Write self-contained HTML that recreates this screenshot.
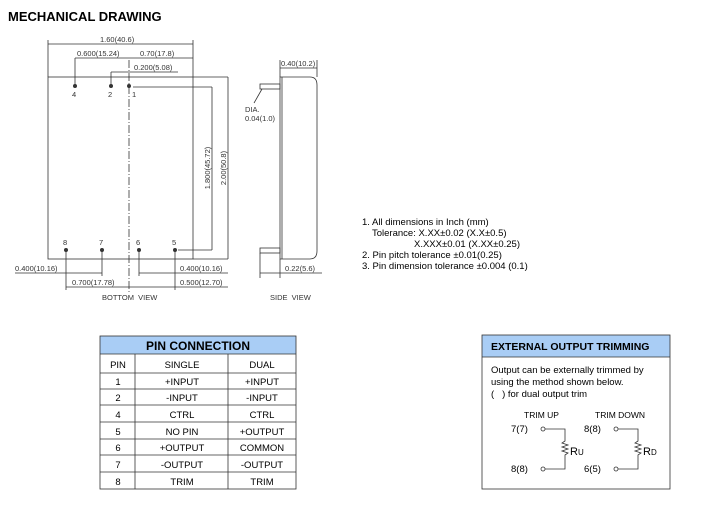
<!DOCTYPE html>
<html><head><meta charset="utf-8"><style>
html,body{margin:0;padding:0;background:#fff;width:709px;height:515px;overflow:hidden}
svg{display:block}
.t{font-family:"Liberation Sans",sans-serif}
</style></head><body>
<svg width="709" height="515" viewBox="0 0 709 515" xmlns="http://www.w3.org/2000/svg">
<text x="8" y="21" class="t" font-size="13" font-weight="bold" fill="#000">MECHANICAL DRAWING</text>
<g stroke="#333" stroke-width="0.8" fill="none">
<!-- body -->
<rect x="48" y="77" width="145" height="182"/>
<line x1="129" y1="60" x2="129" y2="292" stroke-dasharray="8,2,1,2"/>
<!-- top dims -->
<line x1="48" y1="44" x2="193" y2="44"/>
<line x1="48" y1="40" x2="48" y2="77"/><line x1="193" y1="40" x2="193" y2="77"/>
<line x1="75" y1="58" x2="193" y2="58"/>
<line x1="75" y1="58" x2="75" y2="86"/>
<line x1="111" y1="72" x2="178" y2="72"/>
<line x1="111" y1="72" x2="111" y2="86"/>
<!-- vertical dims -->
<line x1="133" y1="87" x2="212" y2="87"/>
<line x1="212" y1="87" x2="212" y2="250"/>
<line x1="178" y1="250" x2="212" y2="250"/>
<line x1="193" y1="77" x2="228" y2="77"/>
<line x1="228" y1="77" x2="228" y2="259"/>
<line x1="193" y1="259" x2="228" y2="259"/>
<!-- bottom dims -->
<line x1="66" y1="250" x2="66" y2="290"/>
<line x1="102" y1="250" x2="102" y2="276"/>
<line x1="139" y1="250" x2="139" y2="276"/>
<line x1="175" y1="250" x2="175" y2="290"/>
<line x1="15" y1="273" x2="102" y2="273"/>
<line x1="66" y1="287" x2="129" y2="287"/>
<line x1="139" y1="273" x2="228" y2="273"/>
<line x1="129" y1="287" x2="228" y2="287"/>
<!-- side view -->
<path d="M280 77 H310 Q317 77 317 85 V251 Q317 259 310 259 H280 Z"/>
<line x1="282" y1="77" x2="282" y2="259"/>
<rect x="260" y="84" width="20" height="5"/>
<rect x="260" y="248" width="20" height="5"/>
<line x1="280" y1="60" x2="280" y2="77"/><line x1="317" y1="60" x2="317" y2="77"/>
<line x1="280" y1="68" x2="317" y2="68"/>
<line x1="262" y1="89" x2="254" y2="103"/>
<line x1="260" y1="253" x2="260" y2="278"/><line x1="280" y1="259" x2="280" y2="278"/>
<line x1="260" y1="273" x2="322" y2="273"/>
</g>
<g fill="#333">
<circle cx="75" cy="86" r="2"/><circle cx="111" cy="86" r="2"/><circle cx="129" cy="86" r="2"/>
<circle cx="66" cy="250" r="2"/><circle cx="102" cy="250" r="2"/><circle cx="139" cy="250" r="2"/><circle cx="175" cy="250" r="2"/>
</g>
<g class="t" font-size="7.5" fill="#333">
<text x="100" y="42">1.60(40.6)</text>
<text x="77" y="56">0.600(15.24)</text>
<text x="140" y="56">0.70(17.8)</text>
<text x="134" y="70">0.200(5.08)</text>
<text x="72" y="97">4</text><text x="108" y="97">2</text><text x="132" y="97">1</text>
<text x="63" y="245">8</text><text x="99" y="245">7</text><text x="136" y="245">6</text><text x="172" y="245">5</text>
<text x="15" y="271">0.400(10.16)</text>
<text x="72" y="285">0.700(17.78)</text>
<text x="180" y="271">0.400(10.16)</text>
<text x="180" y="285">0.500(12.70)</text>
<text x="102" y="300">BOTTOM&#160;&#160;VIEW</text>
<text x="270" y="300">SIDE&#160;&#160;VIEW</text>
<text x="281" y="66">0.40(10.2)</text>
<text x="245" y="112">DIA.</text>
<text x="245" y="121">0.04(1.0)</text>
<text x="285" y="271">0.22(5.6)</text>
<text transform="translate(210,168) rotate(-90)" text-anchor="middle">1.800(45.72)</text>
<text transform="translate(226,168) rotate(-90)" text-anchor="middle">2.00(50.8)</text>
</g>
<g class="t" font-size="9.5" fill="#000">
<text x="362" y="225">1. All dimensions in Inch (mm)</text>
<text x="372" y="236">Tolerance: X.XX±0.02 (X.X±0.5)</text>
<text x="414" y="247">X.XXX±0.01 (X.XX±0.25)</text>
<text x="362" y="258">2. Pin pitch tolerance ±0.01(0.25)</text>
<text x="362" y="269">3. Pin dimension tolerance ±0.004 (0.1)</text>
</g>
<!-- pin table -->
<rect x="100" y="336" width="196" height="18" fill="#a9cdf5"/>
<g stroke="#333" stroke-width="0.8" fill="none">
<rect x="100" y="336" width="196" height="153"/>
<line x1="100" y1="354" x2="296" y2="354"/>
<line x1="100" y1="373" x2="296" y2="373"/>
<line x1="100" y1="389" x2="296" y2="389"/>
<line x1="100" y1="405" x2="296" y2="405"/>
<line x1="100" y1="422" x2="296" y2="422"/>
<line x1="100" y1="439" x2="296" y2="439"/>
<line x1="100" y1="455" x2="296" y2="455"/>
<line x1="100" y1="472" x2="296" y2="472"/>
<line x1="135" y1="354" x2="135" y2="489"/>
<line x1="228" y1="354" x2="228" y2="489"/>
</g>
<g class="t" font-size="9.5" fill="#000" text-anchor="middle">
<text x="198" y="350" font-size="12" font-weight="bold">PIN CONNECTION</text>
<text x="118" y="368">PIN</text><text x="182" y="368">SINGLE</text><text x="262" y="368">DUAL</text>
<text x="118" y="385">1</text><text x="182" y="385">+INPUT</text><text x="262" y="385">+INPUT</text>
<text x="118" y="401">2</text><text x="182" y="401">-INPUT</text><text x="262" y="401">-INPUT</text>
<text x="118" y="418">4</text><text x="182" y="418">CTRL</text><text x="262" y="418">CTRL</text>
<text x="118" y="435">5</text><text x="182" y="435">NO PIN</text><text x="262" y="435">+OUTPUT</text>
<text x="118" y="451">6</text><text x="182" y="451">+OUTPUT</text><text x="262" y="451">COMMON</text>
<text x="118" y="468">7</text><text x="182" y="468">-OUTPUT</text><text x="262" y="468">-OUTPUT</text>
<text x="118" y="485">8</text><text x="182" y="485">TRIM</text><text x="262" y="485">TRIM</text>
</g>
<!-- trim box -->
<rect x="482" y="335" width="188" height="22" fill="#a9cdf5"/>
<g stroke="#333" stroke-width="0.8" fill="none">
<rect x="482" y="335" width="188" height="154"/>
<line x1="482" y1="357" x2="670" y2="357"/>
<circle cx="543" cy="429" r="2"/><circle cx="543" cy="469" r="2"/>
<circle cx="616" cy="429" r="2"/><circle cx="616" cy="469" r="2"/>
<path d="M545 429 H565 V441 l-3 2 l6 2 l-6 2 l6 2 l-6 2 l6 2 l-3 2 V469 H545"/>
<path d="M618 429 H638 V441 l-3 2 l6 2 l-6 2 l6 2 l-6 2 l6 2 l-3 2 V469 H618"/>
</g>
<g class="t" font-size="9.5" fill="#000">
<text x="491" y="350" font-weight="bold" font-size="10.5">EXTERNAL OUTPUT TRIMMING</text>
<text x="491" y="373">Output can be externally trimmed by</text>
<text x="491" y="385">using the method shown below.</text>
<text x="491" y="397">(&#160;&#160;&#160;) for dual output trim</text>
<text x="524" y="418" font-size="8.5">TRIM UP</text>
<text x="595" y="418" font-size="8.5">TRIM DOWN</text>
<text x="511" y="432">7(7)</text><text x="511" y="472">8(8)</text>
<text x="584" y="432">8(8)</text><text x="584" y="472">6(5)</text>
<text x="570" y="455" font-size="11">R<tspan font-size="8">U</tspan></text>
<text x="643" y="455" font-size="11">R<tspan font-size="8">D</tspan></text>
</g>
</svg>
</body></html>
